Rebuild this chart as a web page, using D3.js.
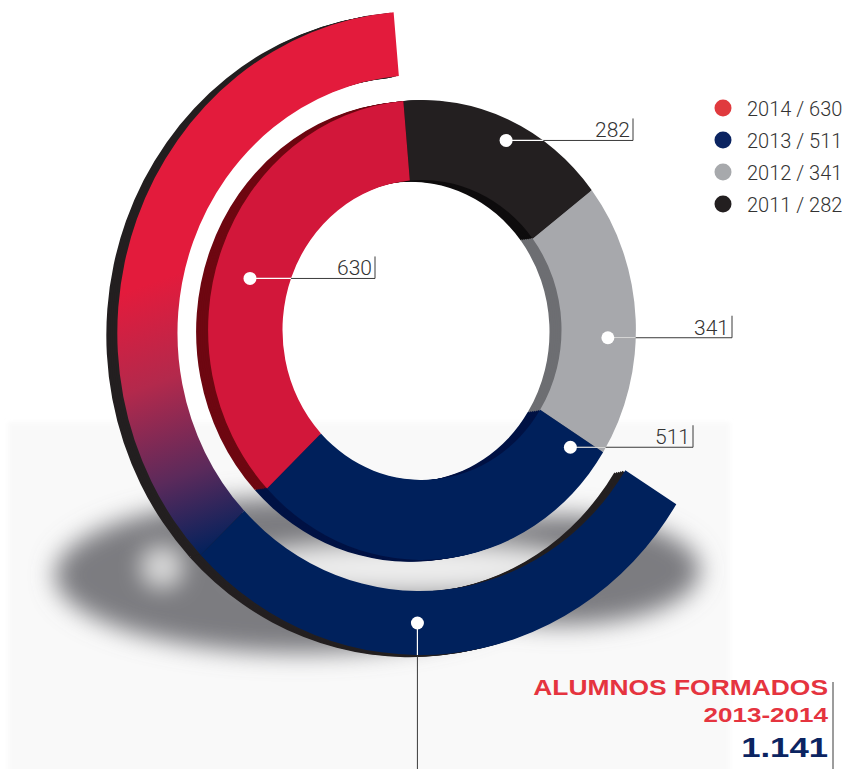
<!DOCTYPE html>
<html>
<head>
<meta charset="utf-8">
<script src="https://cdn.jsdelivr.net/npm/d3@7"></script>
<style>
  body { margin: 0; background: #fff; }
  svg { display: block; }
</style>
</head>
<body>
<script>
  // data
  var years   = ["2011", "2012", "2013", "2014"];
  var alumnos = [282, 341, 511, 630];
  var outerYears  = ["2014", "2013"];     // curso 2013-2014
  var outerValues = [630, 511];

  var frontColors = ["#231f20", "#a7a8ac", "#00205b", "#d2173a"];
  var backColors  = ["#0e0c0d", "#6d6e72", "#001244", "#6e0711"];
  var legendColors = {"2014": "#e03a3e", "2013": "#0b2461", "2012": "#a7a9ac", "2011": "#231f20"};

  var width = 856, height = 769;
  var deg = Math.PI / 180;
  var start = -5 * deg;

  // ring geometry
  var inner = {cx: 422, cy: 330, sx: 0.93, r0: 150, r1: 230};
  var outer = {cx: 420, cy: 333, sx: 0.94, r0: 258, r1: 322};

  // callouts: x of closing tick, where on the slice the dot sits
  var calloutEnd  = [633, 732, 693, 375];
  var calloutFrac = [0.53, 0.57, 0.04, 0.46];
  var calloutR    = [210, 200, 198, 192];

  var fmt = d3.formatLocale({decimal: ",", thousands: ".", grouping: [3], currency: ["", ""]}).format(",");

  var svg = d3.select("body").append("svg")
      .attr("width", width)
      .attr("height", height);
  var defs = svg.append("defs");

  defs.append("filter").attr("id", "blurShadow")
      .attr("x", "-50%").attr("y", "-50%").attr("width", "200%").attr("height", "200%")
    .append("feGaussianBlur").attr("stdDeviation", 12);
  defs.append("filter").attr("id", "blurBg")
      .attr("x", "-10%").attr("y", "-10%").attr("width", "120%").attr("height", "120%")
    .append("feGaussianBlur").attr("stdDeviation", 2);

  // very light floor behind the rings
  svg.append("rect")
      .attr("x", 8).attr("y", 422)
      .attr("width", 722).attr("height", 360)
      .attr("fill", "#f9f9f9")
      .attr("filter", "url(#blurBg)");

  // shadow on the floor: blurred dark blobs with a lighter hole
  var shadow = svg.append("g").attr("filter", "url(#blurShadow)");
  shadow.append("ellipse").attr("cx", 300).attr("cy", 575).attr("rx", 245).attr("ry", 78)
      .attr("fill", "#7b7c80");
  shadow.append("ellipse").attr("cx", 560).attr("cy", 570).attr("rx", 140).attr("ry", 55)
      .attr("fill", "#7b7c80");
  shadow.append("ellipse").attr("cx", 410).attr("cy", 568).attr("rx", 175).attr("ry", 24)
      .attr("fill", "#eeeeee");
  shadow.append("ellipse").attr("cx", 162).attr("cy", 567).attr("rx", 18).attr("ry", 18)
      .attr("fill", "#e6e6e6");

  var total = d3.sum(alumnos);
  var k = 2 * Math.PI / total;

  var innerPie = d3.pie().sort(null).value(function(d) { return d; })
      .startAngle(start).endAngle(start + 2 * Math.PI);
  var outerPie = d3.pie().sort(null).value(function(d) { return d; })
      .startAngle(start).endAngle(start - k * d3.sum(outerValues));

  var innerArc = d3.arc().innerRadius(inner.r0).outerRadius(inner.r1);
  var outerArc = d3.arc().innerRadius(outer.r0).outerRadius(outer.r1);

  var innerSlices = innerPie(alumnos);
  var outerSlices = outerPie(outerValues);

  function place(ring, dx, dy) {
    return "translate(" + (ring.cx + dx) + "," + (ring.cy + dy) + ") scale(" + ring.sx + ",1)";
  }

  // gradient red -> navy on the outer ring (local coords of the ring)
  function pt(a, r) { return [r * Math.sin(a), -r * Math.cos(a)]; }
  var gA = pt(-80 * deg, 290), gB = pt(-137 * deg, 290);
  var og = defs.append("linearGradient").attr("id", "outerGrad")
      .attr("gradientUnits", "userSpaceOnUse")
      .attr("x1", gA[0]).attr("y1", gA[1]).attr("x2", gB[0]).attr("y2", gB[1]);
  [["0", "#e31b3c"], ["0.35", "#b3294c"], ["0.7", "#5b2a5b"], ["1", "#00215c"]].forEach(function(s) {
    og.append("stop").attr("offset", s[0]).attr("stop-color", s[1]);
  });
  var outerFill = ["url(#outerGrad)", "#00215c"];

  // outer ring: extruded edge then face
  var outerDepth = [11, 9, 7, 5, 3];
  outerDepth.forEach(function(d) {
    svg.append("g").attr("transform", place(outer, -d, d * 0.2))
      .selectAll("path").data(outerSlices).enter().append("path")
        .attr("d", outerArc)
        .attr("fill", "#231f20");
  });
  svg.append("g").attr("transform", place(outer, 0, 0))
    .selectAll("path").data(outerSlices).enter().append("path")
      .attr("d", outerArc)
      .attr("fill", function(d, i) { return outerFill[i]; });

  // inner ring: extruded edge then face
  var innerDepth = [12, 10, 8, 6, 4, 2];
  innerDepth.forEach(function(d) {
    svg.append("g").attr("transform", place(inner, -d, d * 0.15))
      .selectAll("path").data(innerSlices).enter().append("path")
        .attr("d", innerArc)
        .attr("fill", function(s, i) { return backColors[i]; });
  });
  svg.append("g").attr("transform", place(inner, 0, 0))
    .selectAll("path").data(innerSlices).enter().append("path")
      .attr("d", innerArc)
      .attr("fill", function(d, i) { return frontColors[i]; });

  // clip used to turn callout lines white over the rings
  var clip = defs.append("clipPath").attr("id", "ringClip");
  innerSlices.forEach(function(d) {
    clip.append("path").attr("d", innerArc(d)).attr("transform", place(inner, 0, 0));
  });
  outerSlices.forEach(function(d) {
    clip.append("path").attr("d", outerArc(d)).attr("transform", place(outer, 0, 0));
  });

  function dotAt(ring, d, frac, r) {
    var a = d.startAngle + frac * (d.endAngle - d.startAngle);
    return [ring.cx + ring.sx * r * Math.sin(a), ring.cy - r * Math.cos(a)];
  }

  var callouts = innerSlices.map(function(d, i) {
    var p = dotAt(inner, d, calloutFrac[i], calloutR[i]);
    return {x: p[0], y: p[1], end: calloutEnd[i], value: d.data};
  });

  var lab = svg.append("g");
  lab.selectAll(".lineDark").data(callouts).enter().append("path")
      .attr("d", function(c) { return "M" + c.x + "," + c.y + "H" + c.end + "V" + (c.y - 22); })
      .attr("fill", "none")
      .attr("stroke", "#3a3a3a")
      .attr("stroke-width", 1);
  lab.selectAll(".lineWhite").data(callouts).enter().append("path")
      .attr("d", function(c) { return "M" + c.x + "," + c.y + "H" + c.end; })
      .attr("stroke", "#fff")
      .attr("stroke-width", 1.2)
      .attr("clip-path", "url(#ringClip)");
  lab.selectAll("circle").data(callouts).enter().append("circle")
      .attr("cx", function(c) { return c.x; })
      .attr("cy", function(c) { return c.y; })
      .attr("r", 6.5)
      .attr("fill", "#fff");
  lab.selectAll("text").data(callouts).enter().append("text")
      .attr("x", function(c) { return c.end - 3; })
      .attr("y", function(c) { return c.y - 3; })
      .attr("text-anchor", "end")
      .style("font-family", "Roboto, 'Liberation Sans', sans-serif")
      .style("font-weight", 300)
      .style("font-size", "21px")
      .style("fill", "#333")
      .text(function(c) { return c.value; });

  // outer ring dot, straight down
  var od = dotAt(outer, outerSlices[1], 0.44, 290);
  lab.append("path")
      .attr("d", "M" + od[0] + "," + od[1] + "V" + height)
      .attr("stroke", "#3a3a3a").attr("stroke-width", 1);
  lab.append("path")
      .attr("d", "M" + od[0] + "," + od[1] + "V" + height)
      .attr("stroke", "#fff").attr("stroke-width", 1.2)
      .attr("clip-path", "url(#ringClip)");
  lab.append("circle")
      .attr("cx", od[0]).attr("cy", od[1]).attr("r", 6.5).attr("fill", "#fff");

  // legend
  var legendYears = years.slice().reverse();
  var legendVals = alumnos.slice().reverse();
  var legend = svg.append("g").attr("transform", "translate(723,108)");
  var li = legend.selectAll("g").data(legendYears).enter().append("g")
      .attr("transform", function(d, i) { return "translate(0," + i * 32 + ")"; });
  li.append("circle").attr("r", 8.5).attr("fill", function(d) { return legendColors[d]; });
  li.append("text")
      .attr("x", 24).attr("y", 7.5)
      .style("font-family", "Roboto, 'Liberation Sans', sans-serif")
      .style("font-weight", 300)
      .style("font-size", "20px")
      .style("fill", "#333")
      .text(function(d, i) { return d + " / " + legendVals[i]; });

  // total
  var tot = svg.append("g").attr("transform", "translate(828,0)");
  function wide(y, size, color, txt) {
    tot.append("g").attr("transform", "translate(0," + y + ") scale(1.24,1)")
      .append("text")
        .attr("text-anchor", "end")
        .style("font-family", "'Liberation Sans', Arial, sans-serif")
        .style("font-weight", "bold")
        .style("font-size", size + "px")
        .style("fill", color)
        .text(txt);
  }
  wide(695, 21.3, "#e5343f", "ALUMNOS FORMADOS");
  wide(722, 21, "#e5343f", outerYears[1] + "-" + outerYears[0]);
  wide(757, 28, "#0b2461", fmt(d3.sum(outerValues)));
  svg.append("line")
      .attr("x1", 833).attr("x2", 833).attr("y1", 682).attr("y2", height)
      .attr("stroke", "#3a3a3a").attr("stroke-width", 1);
</script>
</body>
</html>
